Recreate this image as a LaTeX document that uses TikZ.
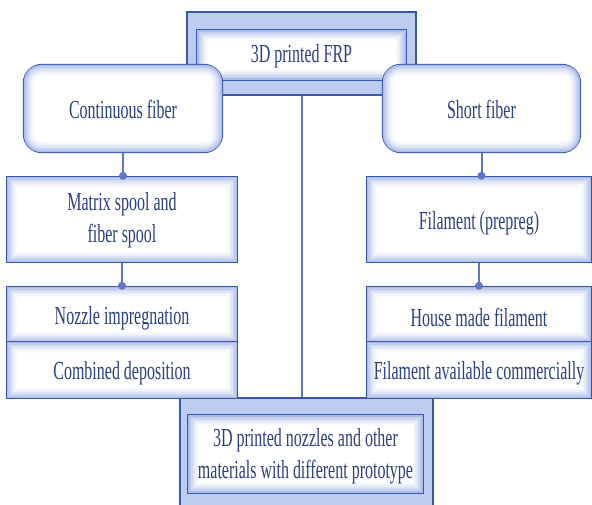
\documentclass[tikz,border=0pt]{standalone}
\usepackage{fontspec}
\setmainfont{Liberation Serif}[FakeStretch=0.615]
\definecolor{bordc}{HTML}{3859AB}
\definecolor{glowc}{HTML}{90A7E0}
\definecolor{bandc}{HTML}{BCCBEE}
\definecolor{txtc}{HTML}{2C3F80}
\definecolor{connc}{HTML}{5F77C6}
\newcommand\myglow[2]{%
  \foreach \k/\o/\r in {2/75/16,3.5/58/14.5,5/44/13,6.5/32/11.5,8/21/10,9.5/12/8.5,11/5/7}{%
    \draw[glowc!\o!white, line width=1.7pt, rounded corners=#2*\r pt]
      ([shift={(\k pt,-\k pt)}]#1.north west) rectangle
      ([shift={(-\k pt,\k pt)}]#1.south east);
  }}
% #1 options, #2 name, #3 position, #4 rounded flag, #5 text, #6 text shift
\newcommand\gnode[6]{%
  \node[box,#1] (#2) at (#3) {};
  \myglow{#2}{#4}
  \node[txt, yshift=#6] at (#2) {#5};
}
\tikzset{
  box/.style={draw=bordc, line width=2.4pt, fill=white,
    inner sep=0pt, minimum width=230pt},
  txt/.style={text=txtc, font=\fontsize{26}{32}\selectfont, align=center, inner sep=0pt},
  pill/.style={rounded corners=18pt, minimum width=198pt, minimum height=87pt},
  frame/.style={draw=bordc, line width=2pt, fill=bandc, inner sep=0pt},
  conn/.style={draw=connc, line width=2pt},
  dot/.style={fill=connc},
}
\begin{document}
\begin{tikzpicture}[x=1pt,y=-1pt]
\clip (0,0) rectangle (592,505);
\fill[white] (0,0) rectangle (592,505);
% top frame
\node[frame, minimum width=229pt, minimum height=83pt] (topframe) at (301.5,53.5) {};
\gnode{minimum width=209pt, minimum height=50pt, line width=1.6pt}{top}{301.5,55}{0}{3D printed FRP}{-1pt}
% bottom frame
\node[frame, minimum width=253pt, minimum height=112pt] (botframe) at (306.5,454) {};
\gnode{minimum width=235pt, minimum height=78pt, line width=1.6pt}{bot}{305.5,454}{0}{3D printed nozzles and other\\materials with different prototype}{-2pt}
% main vertical line
\draw[conn] (topframe.south) -- (topframe.south |- botframe.north);
% pills
\gnode{pill}{cont}{123,108.5}{1}{Continuous fiber}{-1pt}
\gnode{pill, minimum width=197pt}{short}{481.5,108.5}{1}{Short fiber}{-1pt}
% left column
\gnode{minimum height=85pt}{matrix}{122,219.5}{0}{Matrix spool and\\fiber spool}{-1pt}
\gnode{minimum height=55pt}{nozzle}{122,314.5}{0}{Nozzle impregnation}{-4pt}
\gnode{minimum height=56pt}{comb}{122,370}{0}{Combined deposition}{-3pt}
% right column
\gnode{minimum width=224pt, minimum height=85pt}{fil}{479,219.5}{0}{Filament (prepreg)}{-4pt}
\gnode{minimum width=224pt, minimum height=55pt}{house}{479,314.5}{0}{House made filament}{-3pt}
\gnode{minimum width=224pt, minimum height=56pt}{avail}{479,370}{0}{Filament available commercially}{-3pt}
% connectors
\draw[conn] (cont.south) -- (cont.south |- matrix.north);
\fill[dot] (cont.south |- matrix.north) circle (4pt);
\draw[conn] (matrix.south) -- (nozzle.north);
\fill[dot] (nozzle.north) circle (4pt);
\draw[conn] (short.south) -- (short.south |- fil.north);
\fill[dot] (short.south |- fil.north) circle (4pt);
\draw[conn] (fil.south) -- (house.north);
\fill[dot] (house.north) circle (4pt);
\end{tikzpicture}
\end{document}
